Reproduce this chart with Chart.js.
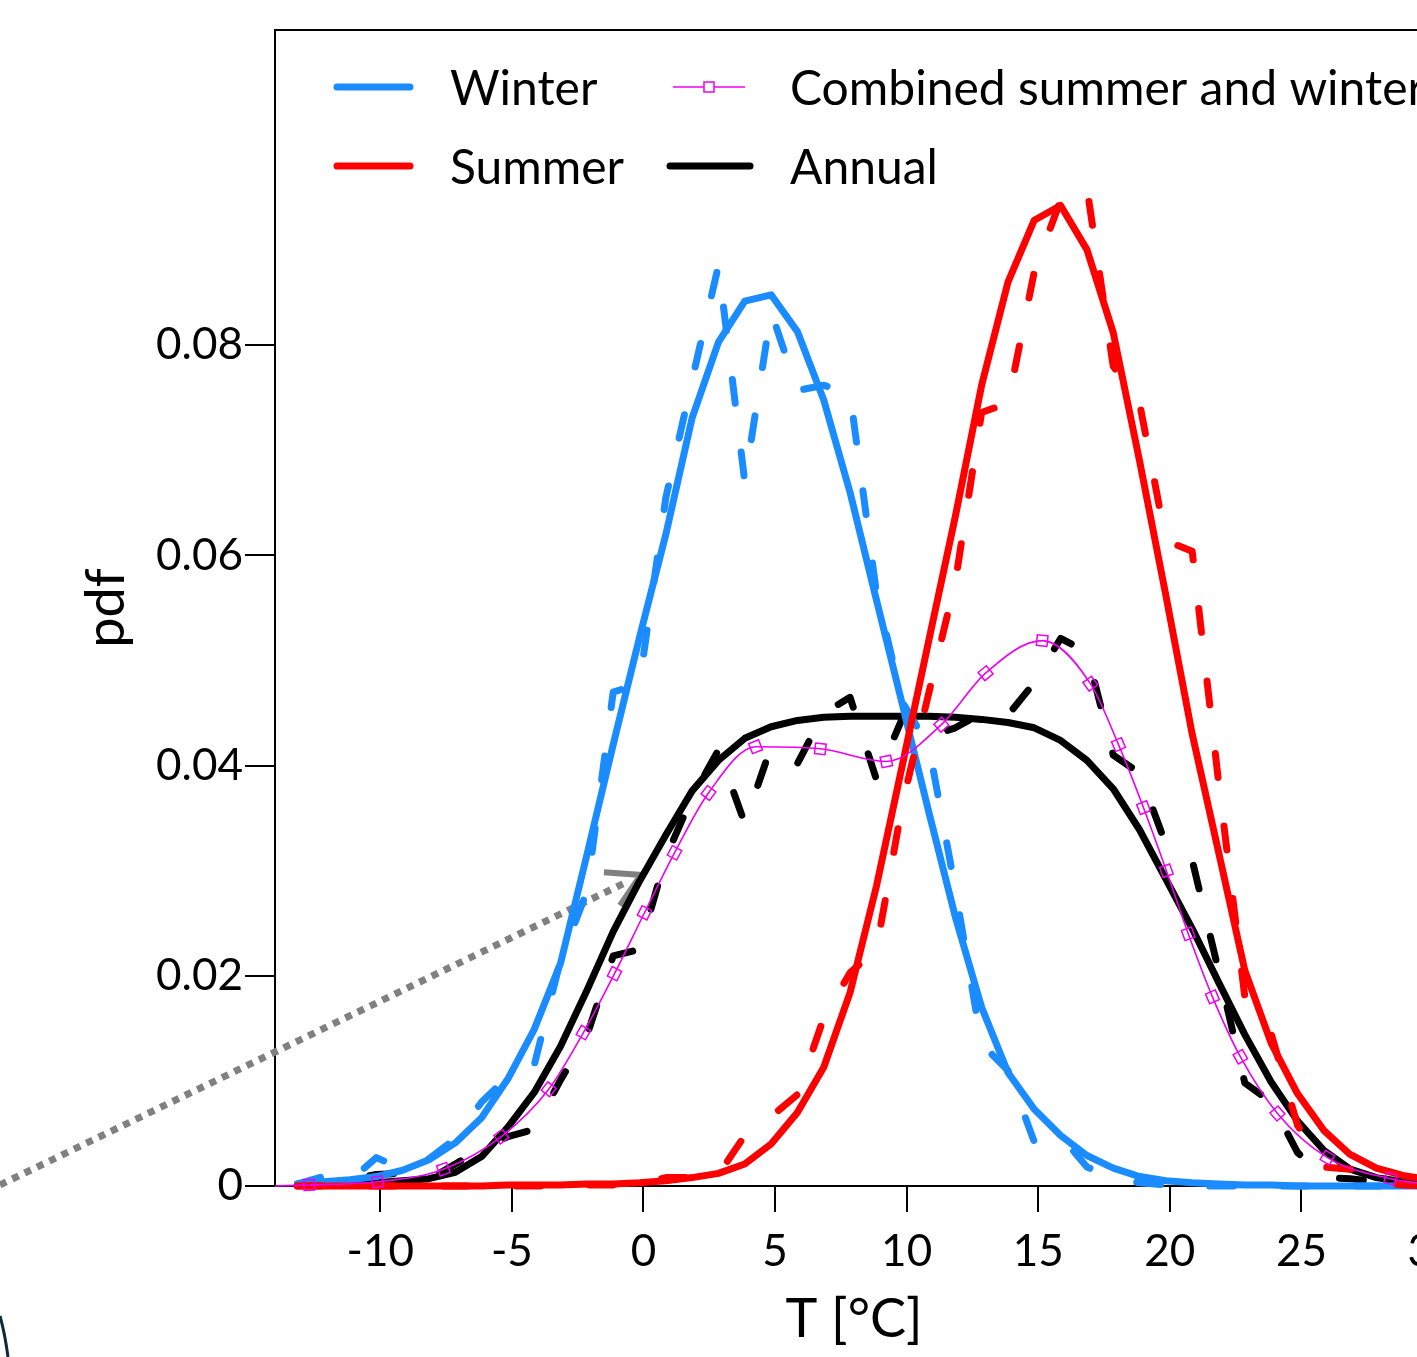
<!DOCTYPE html>
<html>
<head>
<meta charset="utf-8">
<title>Temperature pdf</title>
<script src="https://cdn.jsdelivr.net/npm/chart.js@4.4.0/dist/chart.umd.min.js"></script>
<style>
  html, body { margin: 0; padding: 0; background: #fff; overflow: hidden; }
  #wrap { width: 1417px; height: 1357px; overflow: hidden; position: relative; }
  canvas { display: block; }
</style>
</head>
<body>
<div id="wrap"><canvas id="c" width="1500" height="1357"></canvas></div>
<script>
// Temperature bins (°C)
const temps = [-13.15, -12.15, -11.15, -10.15, -9.15, -8.15, -7.15, -6.15, -5.15, -4.15,
  -3.15, -2.15, -1.15, -0.15, 0.85, 1.85, 2.85, 3.85, 4.85, 5.85,
  6.85, 7.85, 8.85, 9.85, 10.85, 11.85, 12.85, 13.85, 14.85, 15.85,
  16.85, 17.85, 18.85, 19.85, 20.85, 21.85, 22.85, 23.85, 24.85, 25.85,
  26.85, 27.85, 28.85, 29.85];

// Fitted pdfs (solid lines)
const winterFit = [0.0002, 0.0004, 0.0006, 0.0009, 0.0015, 0.0025, 0.0041, 0.0065, 0.0102, 0.0149,
  0.0212, 0.0315, 0.0420, 0.0522, 0.0620, 0.0731, 0.0803, 0.0842, 0.0848, 0.0813,
  0.0748, 0.0660, 0.0558, 0.0457, 0.0355, 0.0256, 0.0170, 0.0108, 0.0073, 0.0048,
  0.0029, 0.0017, 0.0009, 0.0005, 0.0003, 0.0002, 0.0001, 0.0001, 0, 0,
  0, 0, 0, 0];
const summerFit = [0, 0, 0, 0, 0, 0, 0, 0, 0.0001, 0.0001,
  0.0001, 0.0002, 0.0002, 0.0003, 0.0005, 0.0008, 0.0012, 0.0021, 0.0040, 0.0070,
  0.0113, 0.0184, 0.0285, 0.0402, 0.0520, 0.0637, 0.0762, 0.0860, 0.0919, 0.0933,
  0.0891, 0.0812, 0.0690, 0.0562, 0.0430, 0.0318, 0.0205, 0.0136, 0.0088, 0.0053,
  0.0030, 0.0017, 0.0010, 0.0006];
const annualFit = [0.0001, 0.0001, 0.0002, 0.0003, 0.0005, 0.0007, 0.0013, 0.0028, 0.0056, 0.0089,
  0.0133, 0.0186, 0.0242, 0.0290, 0.0334, 0.0376, 0.0405, 0.0426, 0.0437, 0.0443,
  0.0446, 0.0447, 0.0447, 0.0447, 0.0447, 0.0446, 0.0444, 0.0441, 0.0436, 0.0424,
  0.0405, 0.0378, 0.0339, 0.0292, 0.0245, 0.0194, 0.0144, 0.0099, 0.0062, 0.0034,
  0.0016, 0.0008, 0.0004, 0.0002];

// Empirical pdfs (dashed lines)
const winterObs = [0.0002, 0.0009, 0.0005, 0.0027, 0.0016, 0.0026, 0.0045, 0.0080, 0.0104, 0.0115,
  0.0215, 0.0280, 0.0470, 0.0478, 0.0655, 0.0767, 0.0876, 0.0670, 0.0832, 0.0757,
  0.0762, 0.0754, 0.0565, 0.0460, 0.0418, 0.0282, 0.0135, 0.0110, 0.0042, 0.0048,
  0.0018, 0.0008, 0.0003, 0.0001, 0, 0, 0, 0, 0, 0,
  0, 0, 0, 0];
const summerObs = [0, 0, 0, 0, 0, 0, 0, 0, 0, 0,
  0, 0.0001, 0.0001, 0.0002, 0.0008, 0.0008, 0.0011, 0.0048, 0.0066, 0.0087,
  0.0160, 0.0203, 0.0225, 0.0365, 0.0470, 0.0575, 0.0736, 0.0745, 0.0870, 0.0938,
  0.0950, 0.0780, 0.0745, 0.0614, 0.0604, 0.0385, 0.0180, 0.0145, 0.0058, 0.0018,
  0.0016, 0.0004, 0.0001, 0];
const annualObs = [0.0001, 0.0003, 0.0006, 0.0011, 0.0012, 0.0006, 0.0021, 0.0035, 0.0047, 0.0054,
  0.0101, 0.0143, 0.0219, 0.0225, 0.0313, 0.0370, 0.0415, 0.0345, 0.0418, 0.0402,
  0.0450, 0.0465, 0.0387, 0.0446, 0.0428, 0.0436, 0.0450, 0.0448, 0.0479, 0.0521,
  0.0508, 0.0410, 0.0393, 0.0325, 0.0310, 0.0205, 0.0098, 0.0080, 0.0032, 0.0008,
  0.0007, 0.0004, 0.0002, 0.0001];

// Mixture of the summer and winter fits (thin line with square markers)
const combinedT = [-14, -12.7, -10.1, -7.6, -5.4, -3.6, -2.28, -1.1, 0.04, 1.18,
  2.47, 4.26, 6.72, 9.23, 11.32, 13.0, 15.15, 16.98, 18.05, 19.0,
  19.87, 20.7, 21.62, 22.68, 24.09, 25.99, 28.38, 30];
const combinedPdf = [0, 0.0001, 0.0004, 0.0016, 0.0047, 0.0092, 0.0146, 0.0202, 0.0260, 0.0317,
  0.0374, 0.0418, 0.0416, 0.0404, 0.0439, 0.0488, 0.0519, 0.0478, 0.0420, 0.0360,
  0.0300, 0.0240, 0.0180, 0.0123, 0.0069, 0.0027, 0.0007, 0.0001];

// Axis ticks
const xTicks = [-10, -5, 0, 5, 10, 15, 20, 25, 30];
const yTicks = [0, 0.02, 0.04, 0.06, 0.08];

// Legend entries
const legendLabels = ['Winter', 'Summer', 'Combined summer and winter', 'Annual'];

// Cross-reference arrow (T, pdf)
const arrowTail = [-24.45, 0.0001];
const arrowHead = [-0.1, 0.0296];

const BLUE = '#1a8cff';
const RED = '#ff0000';
const BLACK = '#000000';
const MAGENTA = '#ee00ee';
const FONT = 'Lato, "Open Sans", sans-serif';

const pairs = (xs, ys) => xs.map((x, i) => ({ x: x, y: ys[i] }));

const solid = (label, ys, color, order) => ({
  label: label, data: pairs(temps, ys), borderColor: color, backgroundColor: color,
  borderWidth: 7, pointRadius: 0, tension: 0, fill: false, clip: false, order: order,
  borderJoinStyle: 'round', borderCapStyle: 'round'
});
const dashed = (label, ys, color, order) => ({
  label: label, data: pairs(temps, ys), borderColor: color, backgroundColor: color,
  borderWidth: 7, pointRadius: 0, tension: 0, fill: false, clip: false, order: order,
  borderDash: [24, 49], borderJoinStyle: 'round', borderCapStyle: 'round'
});

// Square markers are turned to follow the local direction of the curve
function markerRotation(ctx) {
  const chart = ctx.chart;
  const i = ctx.dataIndex;
  const xs = chart.scales.x, ys = chart.scales.y;
  if (i === undefined || !xs || !ys) return 0;
  const a = Math.max(i - 1, 0), b = Math.min(i + 1, combinedT.length - 1);
  const dx = xs.getPixelForValue(combinedT[b]) - xs.getPixelForValue(combinedT[a]);
  const dy = ys.getPixelForValue(combinedPdf[b]) - ys.getPixelForValue(combinedPdf[a]);
  const ang = Math.atan2(dy, dx) * 180 / Math.PI;
  return isFinite(ang) ? ang : 0;
}

const decorations = {
  id: 'decorations',
  beforeDatasetsDraw(chart) {
    const { ctx, scales: { x, y } } = chart;
    // dotted arrow
    const x0 = x.getPixelForValue(arrowTail[0]), y0 = y.getPixelForValue(arrowTail[1]);
    const x1 = x.getPixelForValue(arrowHead[0]), y1 = y.getPixelForValue(arrowHead[1]);
    ctx.save();
    ctx.strokeStyle = '#808080';
    ctx.lineWidth = 7;
    ctx.lineCap = 'butt';
    ctx.setLineDash([7, 6.7]);
    ctx.beginPath();
    ctx.moveTo(x0, y0);
    ctx.lineTo(x1 - 14, y1 + 7);
    ctx.stroke();
    ctx.setLineDash([]);
    ctx.lineWidth = 6;
    const back = Math.atan2(y0 - y1, x0 - x1);
    const arm = 37;
    ctx.beginPath();
    ctx.moveTo(x1 + arm * Math.cos(back + Math.PI / 6), y1 + arm * Math.sin(back + Math.PI / 6));
    ctx.lineTo(x1, y1);
    ctx.lineTo(x1 + arm * Math.cos(back - Math.PI / 6), y1 + arm * Math.sin(back - Math.PI / 6));
    ctx.stroke();
    // small arc at the lower left corner
    ctx.strokeStyle = '#0b2a3c';
    ctx.lineWidth = 3;
    ctx.beginPath();
    ctx.moveTo(0, 1316);
    ctx.quadraticCurveTo(5, 1334, 8, 1357);
    ctx.stroke();
    ctx.restore();
  },
  afterDraw(chart) {
    const { ctx, chartArea: a } = chart;
    ctx.save();
    // plot frame (top and right)
    ctx.strokeStyle = '#000';
    ctx.lineWidth = 2;
    ctx.beginPath();
    ctx.moveTo(a.left, a.top);
    ctx.lineTo(a.right, a.top);
    ctx.lineTo(a.right, a.bottom);
    ctx.stroke();

    // legend
    const ds = chart.data.datasets;
    const byLabel = l => ds.find(d => d.label === l);
    const entries = [
      { label: legendLabels[0], x: 337, len: 73, y: 87, tx: 450, by: 105 },
      { label: legendLabels[1], x: 337, len: 73, y: 166, tx: 450, by: 184 },
      { label: legendLabels[2], x: 673, len: 72, y: 87, tx: 790, by: 105 },
      { label: legendLabels[3], x: 670, len: 80, y: 166, tx: 790, by: 184 }
    ];
    ctx.font = '48px ' + FONT;
    ctx.textAlign = 'left';
    ctx.textBaseline = 'alphabetic';
    entries.forEach(e => {
      const d = byLabel(e.label);
      ctx.strokeStyle = d.borderColor;
      ctx.lineWidth = d.borderWidth;
      ctx.lineCap = d.borderWidth > 3 ? 'round' : 'butt';
      ctx.beginPath();
      ctx.moveTo(e.x, e.y);
      ctx.lineTo(e.x + e.len, e.y);
      ctx.stroke();
      if (d.pointRadius && d.pointStyle === 'rect') {
        ctx.lineWidth = 1.5;
        ctx.fillStyle = '#fff';
        ctx.fillRect(e.x + e.len / 2 - 5, e.y - 5, 10, 10);
        ctx.strokeRect(e.x + e.len / 2 - 5, e.y - 5, 10, 10);
      }
      ctx.fillStyle = '#000';
      ctx.fillText(e.label, e.tx, e.by);
    });
    ctx.restore();
  }
};

const tickFont = { family: FONT, size: 44, lineHeight: 1.2 };
const titleFont = { family: FONT, size: 54, lineHeight: 1 };

new Chart(document.getElementById('c'), {
  type: 'line',
  data: {
    datasets: [
      {
        label: legendLabels[2], data: pairs(combinedT, combinedPdf),
        borderColor: MAGENTA, backgroundColor: '#fff', borderWidth: 1.6,
        pointStyle: 'rect',
        pointRadius: c => (c.dataIndex === 0 || c.dataIndex === combinedT.length - 1) ? 0 : 7.5,
        pointBorderColor: MAGENTA, pointBackgroundColor: 'rgba(255,255,255,0)', pointBorderWidth: 1.5,
        pointRotation: markerRotation,
        cubicInterpolationMode: 'monotone', fill: false, clip: false, order: 0
      },
      solid(legendLabels[1], summerFit, RED, 1),
      dashed('Summer (observed)', summerObs, RED, 2),
      solid(legendLabels[0], winterFit, BLUE, 3),
      dashed('Winter (observed)', winterObs, BLUE, 4),
      solid(legendLabels[3], annualFit, BLACK, 5),
      dashed('Annual (observed)', annualObs, BLACK, 6)
    ]
  },
  options: {
    responsive: false,
    animation: false,
    events: [],
    layout: { padding: { top: 30, right: 67, left: 0, bottom: 0 } },
    plugins: { legend: { display: false }, tooltip: { enabled: false }, title: { display: false } },
    scales: {
      x: {
        type: 'linear', min: -14, max: 30,
        afterBuildTicks: s => { s.ticks = xTicks.map(v => ({ value: v })); },
        afterFit: s => { s.height = 171; },
        grid: { drawOnChartArea: false, drawTicks: true, tickLength: 26, color: '#000', lineWidth: 2 },
        border: { display: true, color: '#000', width: 2 },
        ticks: { font: tickFont, color: '#000', padding: 13, maxRotation: 0, autoSkip: false,
          callback: v => String(v) },
        title: { display: true, text: 'T [°C]', font: titleFont, color: '#000', padding: { top: 0, bottom: 10 } }
      },
      y: {
        type: 'linear', min: 0, max: 0.11,
        afterBuildTicks: s => { s.ticks = yTicks.map(v => ({ value: v })); },
        afterFit: s => { s.width = 275; },
        grid: { drawOnChartArea: false, drawTicks: true, tickLength: 30, color: '#000', lineWidth: 2 },
        border: { display: true, color: '#000', width: 2 },
        ticks: { font: tickFont, color: '#000', padding: 2, autoSkip: false,
          callback: v => (v === 0 ? '0' : v.toFixed(2)) },
        title: { display: true, text: 'pdf', font: titleFont, color: '#000', padding: { top: 80, bottom: 0 } }
      }
    }
  },
  plugins: [decorations]
});
</script>
</body>
</html>
